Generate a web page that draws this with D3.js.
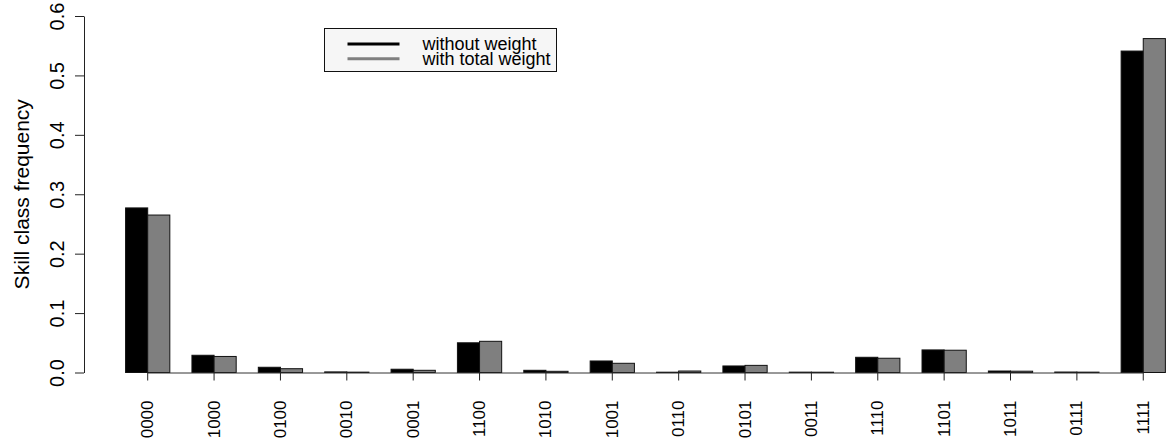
<!DOCTYPE html>
<html>
<head>
<meta charset="utf-8">
<script src="https://cdn.jsdelivr.net/npm/d3@7"></script>
<style>
  html, body {margin: 0; padding: 0; background: white;}
  svg text {font-family: "Liberation Sans", Arial, sans-serif;}
</style>
</head>
<body>
<svg id="plot"></svg>
<script>
const width = 1168;
const height = 442;
const namesSize = 17;
const axisSize = 20;
const labSize = 21;
const legendSize = 18;

// skill classes, in the order of the bars
const classes = ['0000','1000','0100','0010','0001','1100','1010','1001',
  '0110','0101','0011','1110','1101','1011','0111','1111'];
const seriesNames = ['without weight', 'with total weight'];
const seriesColors = ['#000000', '#7f7f7f'];
const withoutWeight = [0.277, 0.029, 0.0088, 0.001, 0.0055, 0.050, 0.0037, 0.0194,
  0.0005, 0.011, 0.0006, 0.0256, 0.038, 0.0025, 0.0008, 0.541];
const withTotalWeight = [0.265, 0.027, 0.0064, 0.0006, 0.0037, 0.0525, 0.002, 0.0155,
  0.0025, 0.012, 0.0005, 0.024, 0.0375, 0.0022, 0.0006, 0.562];
const yTicks = [0, 0.1, 0.2, 0.3, 0.4, 0.5, 0.6];

function main(){
  let chart = new Chart('#plot', width, height)
  .initScales()
  .initBars()
  .initAxes()
  .initLegend();
  window.chart = chart;
}

class Chart{
  constructor(id, width, height){
    this.svg = d3.select('svg' + id)
    .attr('width', width)
    .attr('height', height);
    this.width = width;
    this.height = height;
    this.table = classes.map((c, i)=>({
      cls: c,
      values: [withoutWeight[i], withTotalWeight[i]]
    }));
  }

  initScales(){
    // R barplot(beside=TRUE): 2 bars per group, one bar-width gap
    this.sx = d3.scaleBand()
    .domain(classes)
    .range([103.45, 1187.5])
    .paddingInner(1/3)
    .paddingOuter(1/3);

    this.sxInner = d3.scaleBand()
    .domain(d3.range(seriesNames.length))
    .range([0, this.sx.bandwidth()]);

    this.sy = d3.scaleLinear()
    .domain([0, 0.6])
    .range([372.5, 16]);
    return this;
  }

  initBars(){
    let groups = this.svg.selectAll('.group')
    .data(this.table)
    .enter()
    .append('g')
    .attr('class', 'group')
    .attr('transform', d=>`translate(${this.sx(d.cls)},0)`);

    groups.selectAll('rect')
    .data(d=>d.values)
    .enter()
    .append('rect')
    .attr('x', (d,i)=>this.sxInner(i))
    .attr('y', d=>this.sy(d))
    .attr('width', this.sxInner.bandwidth())
    .attr('height', d=>this.sy(0)-this.sy(d))
    .attr('fill', (d,i)=>seriesColors[i])
    .attr('stroke', '#111')
    .attr('stroke-width', 1);
    return this;
  }

  initAxes(){
    let x0 = 84;

    // y axis
    let ay = d3.axisLeft(this.sy)
    .tickValues(yTicks)
    .tickFormat(d3.format('.1f'))
    .tickSizeInner(9)
    .tickSizeOuter(0)
    .tickPadding(0);
    let gy = this.svg.append('g')
    .attr('transform', `translate(${x0},0)`)
    .call(ay);
    gy.select('.domain').attr('stroke', '#222');
    gy.selectAll('.tick line').attr('stroke', '#222');
    gy.selectAll('.tick text')
    .attr('x', 0)
    .attr('dy', null)
    .attr('transform', 'translate(-27,0) rotate(-90)')
    .attr('text-anchor', 'middle')
    .attr('dominant-baseline', 'central')
    .style('font-size', axisSize + 'px')
    .attr('fill', '#000');

    // x axis at the group centres
    let ax = d3.axisBottom(this.sx)
    .tickSizeInner(8)
    .tickSizeOuter(0)
    .tickPadding(0);
    let gx = this.svg.append('g')
    .attr('transform', `translate(0,${this.sy(0)})`)
    .call(ax);
    let first = this.sx(classes[0]) + this.sx.bandwidth()/2;
    let last = this.sx(classes[classes.length-1]) + this.sx.bandwidth()/2;
    gx.select('.domain')
    .attr('d', `M${first},0.5H${last}`)
    .attr('stroke', '#333');
    gx.selectAll('.tick line').attr('stroke', '#222');
    gx.selectAll('.tick text')
    .attr('y', 0)
    .attr('dy', null)
    .attr('transform', 'translate(0,28) rotate(-90)')
    .attr('text-anchor', 'end')
    .attr('dominant-baseline', 'central')
    .style('font-size', namesSize + 'px')
    .attr('fill', '#000');

    // y title
    this.svg.append('text')
    .attr('transform', `translate(21,${(this.sy(0)+this.sy(0.6))/2}) rotate(-90)`)
    .attr('text-anchor', 'middle')
    .attr('dominant-baseline', 'central')
    .style('font-size', labSize + 'px')
    .text('Skill class frequency');
    return this;
  }

  initLegend(){
    let lg = this.svg.append('g')
    .attr('transform', 'translate(324.5,28.5)');
    lg.append('rect')
    .attr('width', 232)
    .attr('height', 43)
    .attr('fill', '#f6f6f6')
    .attr('stroke', '#111');

    let items = lg.selectAll('.item')
    .data(seriesNames)
    .enter()
    .append('g')
    .attr('class', 'item')
    .attr('transform', (d,i)=>`translate(0,${15.5 + i*14.7})`);
    items.append('line')
    .attr('x1', 23)
    .attr('x2', 75)
    .attr('stroke', (d,i)=>seriesColors[i])
    .attr('stroke-width', 3);
    items.append('text')
    .attr('x', 98)
    .attr('dominant-baseline', 'central')
    .style('font-size', legendSize + 'px')
    .text(d=>d);
    return this;
  }
}

document.addEventListener('DOMContentLoaded', main);
</script>
</body>
</html>
